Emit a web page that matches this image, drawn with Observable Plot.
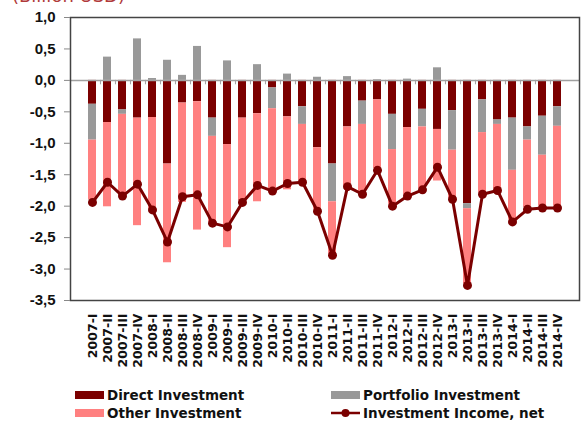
<!DOCTYPE html>
<html>
<head>
<meta charset="utf-8">
<script src="https://cdn.jsdelivr.net/npm/d3@7"></script>
<script src="https://cdn.jsdelivr.net/npm/@observablehq/plot@0.6"></script>
<style>
  html, body { margin: 0; padding: 0; background: #fff; overflow: hidden; }
  body { width: 583px; height: 421px; position: relative; font-family: "DejaVu Sans", sans-serif; }
  #title { position: absolute; left: 12px; top: -13px; font-size: 18px; line-height: 18px; color: #b03a3a; white-space: nowrap; z-index: 2; }
  #chart { position: absolute; left: 0; top: 0; z-index: 1; }
  #legend { position: absolute; left: 0; top: 386px; width: 583px; font-family: "DejaVu Sans", sans-serif; font-weight: bold; font-size: 13.5px; color: #111; }
  .item { position: absolute; display: flex; align-items: center; height: 18px; white-space: nowrap; }
  .sw { width: 29px; height: 8px; margin-right: 3px; }
</style>
</head>
<body>
<div id="chart"></div>
<div id="title">(Billion USD)</div>
<div id="legend"></div>
<script>
const quarters = ["2007-I","2007-II","2007-III","2007-IV","2008-I","2008-II","2008-III","2008-IV",
  "2009-I","2009-II","2009-III","2009-IV","2010-I","2010-II","2010-III","2010-IV",
  "2011-I","2011-II","2011-III","2011-IV","2012-I","2012-II","2012-III","2012-IV",
  "2013-I","2013-II","2013-III","2013-IV","2014-I","2014-II","2014-III","2014-IV"];

const direct = [-0.38,-0.67,-0.47,-0.60,-0.59,-1.33,-0.36,-0.34,-0.60,-1.02,-0.60,-0.53,-0.12,-0.58,-0.42,-1.07,
  -1.33,-0.74,-0.33,-0.31,-0.54,-0.75,-0.46,-0.78,-0.48,-1.96,-0.31,-0.63,-0.60,-0.74,-0.57,-0.42];
const portfolio = [-0.57,0.37,-0.07,0.66,0.03,0.32,0.08,0.54,-0.29,0.31,0.00,0.25,-0.33,0.10,-0.28,0.05,
  -0.60,0.06,-0.37,0.01,-0.56,0.02,-0.28,0.20,-0.63,-0.08,-0.52,-0.07,-0.83,-0.21,-0.62,-0.31];
const other = [-0.95,-1.34,-1.29,-1.71,-1.46,-1.57,-1.58,-2.04,-1.36,-1.64,-1.32,-1.40,-1.27,-1.16,-0.90,-0.98,
  -0.83,-0.94,-1.08,-1.09,-0.87,-1.07,-0.98,-0.82,-0.76,-1.20,-0.96,-1.03,-0.79,-1.07,-0.81,-1.27];
const income = [-1.94,-1.62,-1.84,-1.65,-2.06,-2.57,-1.85,-1.82,-2.27,-2.33,-1.94,-1.67,-1.76,-1.64,-1.62,-2.08,
  -2.78,-1.69,-1.81,-1.43,-2.00,-1.84,-1.74,-1.38,-1.89,-3.26,-1.81,-1.75,-2.25,-2.05,-2.03,-2.03];

const seriesNames = ["Direct Investment", "Portfolio Investment", "Other Investment"];
const seriesColors = ["#7b0000", "#999999", "#ff8080"];
const lineName = "Investment Income, net";
const lineColor = "#7b0000";
const yTicks = [1, 0.5, 0, -0.5, -1, -1.5, -2, -2.5, -3, -3.5];

const barData = [];
quarters.forEach((q, i) => {
  barData.push({q, s: seriesNames[0], v: direct[i]});
  barData.push({q, s: seriesNames[1], v: portfolio[i]});
  barData.push({q, s: seriesNames[2], v: other[i]});
});
const lineData = quarters.map((q, i) => ({q, v: income[i]}));

const W = 583, H = 380, mL = 70, mR = 4, mT = 17, mB = 80;
const step = (W - mL - mR) / quarters.length;

const fmt = d => d.toFixed(1).replace(".", ",");

const chart = Plot.plot({
  width: W, height: H,
  marginLeft: mL, marginRight: mR, marginTop: mT, marginBottom: mB,
  style: {fontFamily: "'Liberation Sans', Arial, sans-serif", background: "white"},
  x: {domain: quarters, paddingInner: 0.5, paddingOuter: 0.25, label: null},
  y: {domain: [-3.5, 1], label: null},
  color: {domain: seriesNames, range: seriesColors},
  marks: [
    Plot.barY(barData, {x: "q", y: "v", fill: "s", order: null}),
    Plot.ruleY([0], {stroke: "#a0a0a0", strokeWidth: 1.5}),
    Plot.ruleX(quarters.slice(0, -1), {x: d => d, y1: 0, y2: -0.07, dx: step / 2, stroke: "#a0a0a0", strokeWidth: 1}),
    Plot.line(lineData, {x: "q", y: "v", stroke: lineColor, strokeWidth: 3}),
    Plot.dot(lineData, {x: "q", y: "v", fill: lineColor, r: 4.5}),
    Plot.frame({stroke: "#444", strokeWidth: 1.5}),
    Plot.axisY({ticks: yTicks, tickFormat: fmt, tickSize: 6, tickPadding: 9, stroke: "#888",
      fontSize: 15, fontWeight: "bold", fill: "#111"}),
    Plot.axisX({tickSize: 0, tickPadding: 13, tickRotate: -90, fontSize: 12.5, fontWeight: "bold",
      fill: "#111", fontFamily: "'DejaVu Sans', sans-serif"})
  ]
});
document.getElementById("chart").appendChild(chart);

// legend
const legend = document.getElementById("legend");
const items = [
  {name: seriesNames[0], color: seriesColors[0], left: 75, top: 0, type: "bar"},
  {name: seriesNames[1], color: seriesColors[1], left: 331, top: 0, type: "bar"},
  {name: seriesNames[2], color: seriesColors[2], left: 75, top: 18, type: "bar"},
  {name: lineName, color: lineColor, left: 331, top: 18, type: "line"}
];
items.forEach(it => {
  const div = document.createElement("div");
  div.className = "item";
  div.style.left = it.left + "px";
  div.style.top = it.top + "px";
  if (it.type === "bar") {
    const sw = document.createElement("div");
    sw.className = "sw";
    sw.style.background = it.color;
    div.appendChild(sw);
  } else {
    const ns = "http://www.w3.org/2000/svg";
    const svg = document.createElementNS(ns, "svg");
    svg.setAttribute("width", 29); svg.setAttribute("height", 10);
    svg.style.marginRight = "3px";
    const l = document.createElementNS(ns, "line");
    l.setAttribute("x1", 0); l.setAttribute("x2", 29); l.setAttribute("y1", 5); l.setAttribute("y2", 5);
    l.setAttribute("stroke", it.color); l.setAttribute("stroke-width", 2.5);
    const c = document.createElementNS(ns, "circle");
    c.setAttribute("cx", 14.5); c.setAttribute("cy", 5); c.setAttribute("r", 4);
    c.setAttribute("fill", it.color);
    svg.appendChild(l); svg.appendChild(c);
    div.appendChild(svg);
  }
  const t = document.createElement("span");
  t.textContent = it.name;
  div.appendChild(t);
  legend.appendChild(div);
});
</script>
</body>
</html>
